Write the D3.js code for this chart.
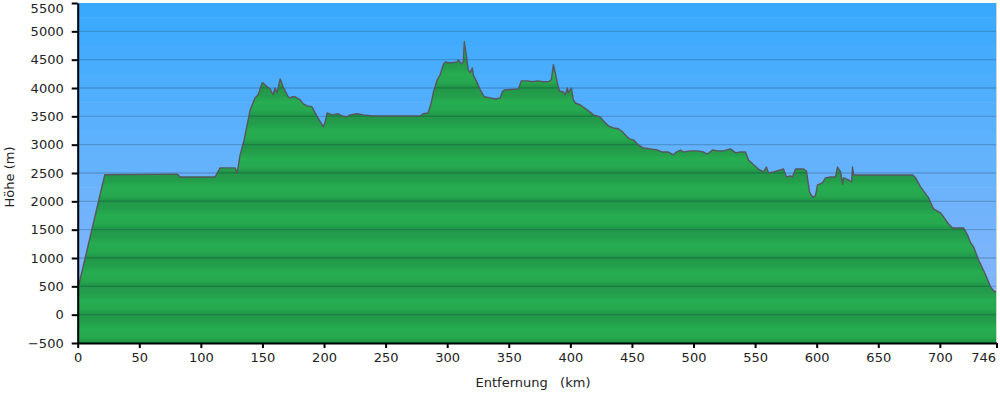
<!DOCTYPE html>
<html>
<head>
<meta charset="utf-8">
<script src="https://cdn.jsdelivr.net/npm/d3@7"></script>
<style>
  html, body { margin: 0; padding: 0; background: #fff; }
  svg { display: block; font-family: "DejaVu Sans", Verdana, sans-serif; }
  .axis text { font-size: 13px; fill: #222; font-family: "DejaVu Sans", Verdana, sans-serif; }
  .axis path, .axis line { stroke: #000; }
</style>
</head>
<body>
<svg id="chart" width="1000" height="393"></svg>
<script>
// --- Elevation profile (km, m) ---
const distanceKm = [
  0, 22, 81, 83, 111.5, 115.6, 127.8, 129.4, 131.9, 135.1, 140, 144, 146.5, 149.7, 150.5,
  153.8, 156.2, 158.6, 160.3, 161.9, 164.4, 166.8, 168.4, 170.9, 172.5, 174.1, 176.5, 180.6,
  183.1, 186.3, 190.3, 192.8, 195.2, 198.5, 199.3, 200.9, 202.5, 206.6, 211.5, 214.7, 218.8,
  221.2, 227, 231.8, 240, 251.3, 261.9, 272.4, 278.1, 280.5, 284.6, 287, 288.7, 291.9, 294.3,
  296.8, 298.4, 300.8, 304.1, 308.2, 309, 311.4, 313.1, 313.9, 315.5, 317.1, 318.7, 320.4,
  321.2, 324.4, 326.9, 330.1, 335, 339.1, 343.1, 344.7, 346.4, 357.8, 360.2, 365.1, 369.2,
  373.2, 378.1, 382.1, 384.6, 386.2, 387.8, 389.4, 391.1, 394.3, 395.9, 397.6, 398.4, 400.8,
  402.4, 404.1, 408.1, 413.8, 418.7, 424.2, 426.8, 430.9, 434.9, 439, 442.3, 446.3, 448,
  451.2, 455.2, 459.3, 465, 470.7, 474.8, 479.6, 483.7, 486.1, 489.4, 491.8, 497.5, 503.2,
  508.1, 511.4, 515.4, 519.5, 524.4, 530, 534.1, 538.1, 542.2, 544.6, 548.7, 552.7, 556.8,
  559.2, 560.9, 564.9, 570.6, 573, 575.5, 578.7, 580.3, 582.8, 589.3, 591.7, 594.2, 596.6,
  599, 600.7, 604.7, 607.2, 611.2, 615.3, 616.9, 619.4, 621, 621.8, 625.9, 628.3, 629.1,
  629.9, 641.3, 677.8, 680.3, 684.3, 690.9, 694.9, 700.6, 703, 707.1, 710.3, 719.3, 722.5,
  725, 727.4, 731.5, 737.2, 741.2, 743.7, 746
];
const elevationM = [
  440, 2470, 2480, 2430, 2430, 2590, 2590, 2500, 2820, 3080, 3610, 3825, 3880, 4090, 4090,
  4020, 3985, 3880, 4000, 3915, 4160, 4020, 3950, 3845, 3825, 3845, 3845, 3790,
  3720, 3685, 3665, 3560, 3470, 3350, 3315, 3400, 3560, 3525, 3545, 3505, 3490,
  3525, 3545, 3525, 3505, 3505, 3505, 3505, 3505, 3545, 3560, 3735, 3915, 4145, 4230,
  4410, 4460, 4445, 4445, 4460, 4500, 4425, 4460, 4815, 4585, 4320, 4265, 4355,
  4230, 4090, 3965, 3845, 3825, 3805, 3825, 3930, 3965, 3985, 4125, 4125, 4110,
  4125, 4110, 4110, 4145, 4410, 4265, 4090, 3950, 3930, 3880, 4000, 3915, 4000,
  3790, 3735, 3700, 3610, 3525, 3490, 3420, 3330, 3295, 3280, 3225, 3135, 3100,
  3085, 2995, 2940, 2925, 2905, 2870, 2870, 2820, 2870, 2905, 2870, 2890, 2890,
  2870, 2835, 2905, 2890, 2890, 2925, 2855, 2870, 2870, 2730, 2645, 2570, 2520,
  2605, 2500, 2520, 2555, 2570, 2430, 2450, 2430, 2570, 2570, 2535, 2165, 2075,
  2095, 2290, 2325, 2415, 2430, 2430, 2605, 2520, 2305, 2415, 2380, 2340, 2605,
  2465, 2465, 2465, 2415, 2255, 2060, 1865, 1795, 1725, 1600, 1530, 1530, 1405,
  1265, 1195, 965, 700, 490, 420, 400
];
const xTicks = [0, 50, 100, 150, 200, 250, 300, 350, 400, 450, 500, 550, 600, 650, 700, 746];
const yTicks = d3.range(-500, 5501, 500);

const profile = distanceKm.map((d, i) => ({ km: d, m: elevationM[i] }));

const svg = d3.select("#chart");
const plotL = 77.7, plotR = 996.5, plotT = 3, plotB = 343;

const x = d3.scaleLinear().domain([0, 746]).range([plotL, plotR]);
const y = d3.scaleLinear().domain([-500, 5500]).range([plotB, plotT]);

const defs = svg.append("defs");

// stepped sky background: bands getting lighter toward the bottom
const skyColor = d3.scaleLinear()
  .domain([5500, 3000, -500])
  .range(["#38a9fd", "#62b2fc", "#92b6f9"]);
const skySteps = d3.range(5500, -500, -250);
svg.append("g").attr("class", "sky")
  .selectAll("rect")
  .data(skySteps)
  .join("rect")
  .attr("x", plotL).attr("width", plotR - plotL)
  .attr("y", d => y(d)).attr("height", y(0) - y(250) + 0.5)
  .attr("fill", d => skyColor(d));

// green terrain fill: a gradient repeated for every 500 m band
const bandH = y(0) - y(500);
const grad = defs.append("linearGradient")
  .attr("id", "bandGrad").attr("x1", 0).attr("y1", 0).attr("x2", 0).attr("y2", 1);
[["0%", "#23984a"], ["25%", "#239d4b"], ["50%", "#27ad51"], ["80%", "#26a84f"], ["100%", "#209347"]]
  .forEach(([o, c]) => grad.append("stop").attr("offset", o).attr("stop-color", c));
const pat = defs.append("pattern")
  .attr("id", "terrain").attr("patternUnits", "userSpaceOnUse")
  .attr("x", 0).attr("y", plotT).attr("width", 1000).attr("height", bandH);
pat.append("rect").attr("width", 1000).attr("height", bandH).attr("fill", "url(#bandGrad)");

const area = d3.area()
  .x(d => x(d.km))
  .y0(plotB)
  .y1(d => y(d.m));

svg.append("path")
  .datum(profile)
  .attr("d", area)
  .attr("fill", "url(#terrain)");

// grid lines over sky and terrain
svg.append("g").attr("class", "grid")
  .selectAll("line")
  .data(yTicks.filter(d => d > -500 && d < 5500))
  .join("line")
  .attr("x1", plotL).attr("x2", plotR)
  .attr("y1", d => y(d)).attr("y2", d => y(d))
  .attr("stroke", "rgba(0,30,40,0.2)")
  .attr("stroke-width", 1.3);

const line = d3.line().x(d => x(d.km)).y(d => y(d.m));
svg.append("path")
  .datum(profile)
  .attr("d", line)
  .attr("fill", "none")
  .attr("stroke", "#55575c")
  .attr("stroke-width", 1.4)
  .attr("stroke-linejoin", "round");

// thin right border
svg.append("line")
  .attr("x1", plotR).attr("x2", plotR).attr("y1", plotT).attr("y2", plotB)
  .attr("stroke", "#c9d6c9").attr("stroke-width", 1);

// axes
const yAxis = svg.append("g").attr("class", "axis")
  .attr("transform", `translate(${plotL},0)`)
  .call(d3.axisLeft(y).tickValues(yTicks).tickFormat(d3.format("d"))
    .tickSize(6).tickSizeOuter(0).tickPadding(8));
yAxis.select(".domain").attr("stroke-width", 2);
yAxis.selectAll(".tick line").attr("stroke-width", 2);
// the top label sits a little lower so it stays inside the frame
yAxis.selectAll(".tick text").filter(d => d === 5500).attr("y", 5);

const xAxis = svg.append("g").attr("class", "axis")
  .attr("transform", `translate(0,${plotB})`)
  .call(d3.axisBottom(x).tickValues(xTicks).tickFormat(d3.format("d"))
    .tickSize(5).tickSizeOuter(0).tickPadding(5));
xAxis.select(".domain").attr("stroke-width", 2);
xAxis.selectAll(".tick line").attr("stroke-width", 2);
xAxis.selectAll(".tick text").filter(d => d === 746)
  .attr("text-anchor", "end").attr("x", -1);

// axis titles
svg.append("text")
  .attr("x", 533).attr("y", 387)
  .attr("text-anchor", "middle")
  .attr("font-size", 13).attr("fill", "#222")
  .style("white-space", "pre")
  .text("Entfernung   (km)");

svg.append("text")
  .attr("transform", `translate(14,${(plotT + plotB) / 2 + 4}) rotate(-90)`)
  .attr("text-anchor", "middle")
  .attr("font-size", 13).attr("fill", "#222")
  .text("Höhe (m)");
</script>
</body>
</html>
